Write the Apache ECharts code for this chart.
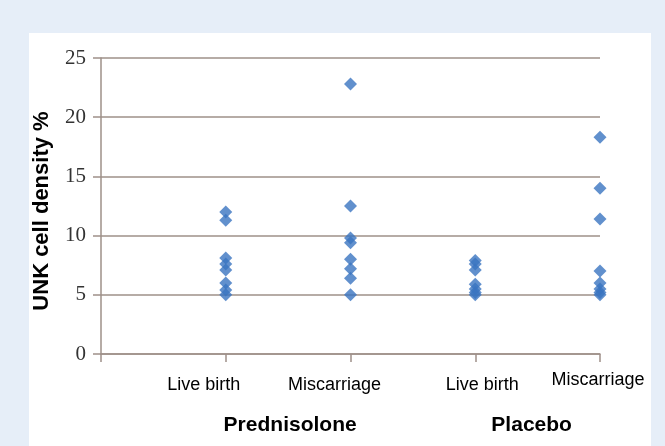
<!DOCTYPE html>
<html>
<head>
<meta charset="utf-8">
<script src="https://cdn.jsdelivr.net/npm/echarts@6/dist/echarts.min.js"></script>
<style>
  html, body { margin: 0; padding: 0; background: #e6eef8; }
  #chart { width: 665px; height: 446px; }
</style>
</head>
<body>
<div id="chart"></div>
<script>
// x positions 1..4 on the value axis
const categories = ['', 'Live birth', 'Miscarriage', 'Live birth', 'Miscarriage'];
const groups = ['Prednisolone', 'Placebo'];
const groupPos = [1.5, 3.5];
const yTicks = [0, 5, 10, 15, 20, 25];

// UNK cell density %
const predLive = [12.0, 11.3, 8.1, 7.6, 7.1, 6.0, 5.4, 5.0];
const predMisc = [22.8, 12.5, 9.8, 9.4, 8.0, 7.2, 6.4, 5.0];
const placLive = [7.9, 7.6, 7.1, 5.9, 5.5, 5.2, 5.0];
const placMisc = [18.3, 14.0, 11.4, 7.0, 6.0, 5.5, 5.2, 5.0];

const columns = [predLive, predMisc, placLive, placMisc];
const points = [];
columns.forEach((vals, i) => vals.forEach(v => points.push([i + 1, v])));

const chart = echarts.init(document.getElementById('chart'));
const lineColor = '#9e9089';
const catFont = {fontFamily: 'Liberation Sans Narrow, Arial, sans-serif', fontSize: 18, color: '#000'};

chart.setOption({
  backgroundColor: '#e6eef8',
  animation: false,
  graphic: [{
    type: 'rect', z: -10, silent: true,
    shape: {x: 29, y: 33, width: 622, height: 420},
    style: {fill: '#ffffff'}
  }],
  grid: {left: 101, top: 58, right: 65, bottom: 92, outerBoundsMode: 'none'},
  xAxis: [{
    type: 'value', min: 0, max: 4, interval: 1,
    axisLine: {lineStyle: {color: lineColor, width: 1.5}},
    axisTick: {show: true, length: 8, lineStyle: {color: lineColor, width: 1.5}},
    splitLine: {show: false},
    axisLabel: {
      margin: 17,
      formatter: v => {
        const name = categories[v] || '';
        return name ? '{c' + v + '|' + name + '}' : '';
      },
      rich: {
        c1: Object.assign({padding: [5, 44, 0, 0]}, catFont),
        c2: Object.assign({padding: [5, 32, 0, 0]}, catFont),
        c3: Object.assign({padding: [5, 0, 0, 14]}, catFont),
        c4: Object.assign({padding: [0, 4, 0, 0]}, catFont)
      }
    }
  }, {
    type: 'value', min: 0, max: 4, interval: 0.5, position: 'bottom',
    axisLine: {show: false}, axisTick: {show: false}, splitLine: {show: false},
    axisLabel: {
      margin: 61,
      formatter: v => {
        const i = groupPos.indexOf(v);
        return i < 0 ? '' : '{g' + i + '|' + groups[i] + '}';
      },
      rich: {
        g0: {fontFamily: 'Liberation Sans, Arial, sans-serif', fontWeight: 'bold', fontSize: 21, color: '#000', padding: [0, 0, 0, 4]},
        g1: {fontFamily: 'Liberation Sans, Arial, sans-serif', fontWeight: 'bold', fontSize: 21, color: '#000', padding: [0, 12, 0, 0]}
      }
    }
  }],
  yAxis: {
    type: 'value', min: yTicks[0], max: yTicks[yTicks.length - 1], interval: 5,
    name: 'UNK cell density %',
    nameLocation: 'middle', nameRotate: 90, nameGap: 48,
    nameTextStyle: {fontFamily: 'Liberation Sans, Arial, sans-serif', fontWeight: 'bold', fontSize: 22, color: '#000', padding: [0, 10, 0, 0]},
    axisLine: {show: true, lineStyle: {color: lineColor, width: 1.5}},
    axisTick: {show: true, length: 8, lineStyle: {color: lineColor, width: 1.5}},
    splitLine: {lineStyle: {color: lineColor, width: 1.5}},
    axisLabel: {margin: 15, fontFamily: 'Liberation Serif, serif', fontSize: 21, color: '#333'}
  },
  series: [{
    type: 'scatter',
    xAxisIndex: 0,
    symbol: 'diamond',
    symbolSize: [13, 13],
    itemStyle: {color: '#3a74c0'},
    data: points
  }]
});
</script>
</body>
</html>
